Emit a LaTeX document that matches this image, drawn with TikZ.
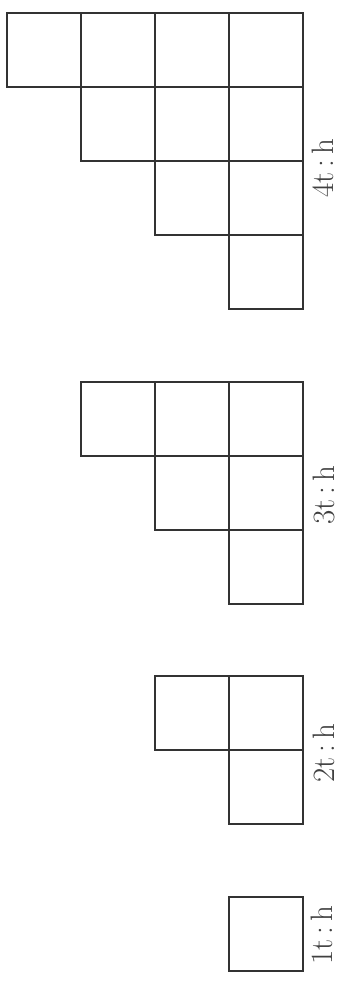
\documentclass[tikz,border=0pt]{standalone}
\begin{document}
\begin{tikzpicture}[x=1pt,y=-1pt,
  cell/.style={draw=black!80, line width=1.1pt, minimum size=74pt, inner sep=0pt},
  lbl/.style={rotate=90, inner sep=0pt, text=black!75, font=\fontsize{31}{34}\selectfont}]
\useasboundingbox (0,0) rectangle (340,991);
\fill[white] (0,0) rectangle (340,991);
% staircase of 4
\foreach \j in {0,...,3}{
  \foreach \i in {0,...,\j}{
    \node[cell] (a\j\i) at ({7+74*\j+37},{13+74*\i+37}) {};
  }
}
% staircase of 3
\foreach \j in {0,...,2}{
  \foreach \i in {0,...,\j}{
    \node[cell] (b\j\i) at ({81+74*\j+37},{382+74*\i+37}) {};
  }
}
% staircase of 2
\foreach \j in {0,...,1}{
  \foreach \i in {0,...,\j}{
    \node[cell] (c\j\i) at ({155+74*\j+37},{676+74*\i+37}) {};
  }
}
% single square
\node[cell] (d00) at (266,934) {};
% labels
\node[lbl] (l4) at (323,168) {4t\,:\,h};
\node[lbl] (l3) at (324,495) {3t\,:\,h};
\node[lbl] (l2) at (324,753) {2t\,:\,h};
\node[lbl] (l1) at (322,935) {1t\,:\,h};
\end{tikzpicture}
\end{document}
